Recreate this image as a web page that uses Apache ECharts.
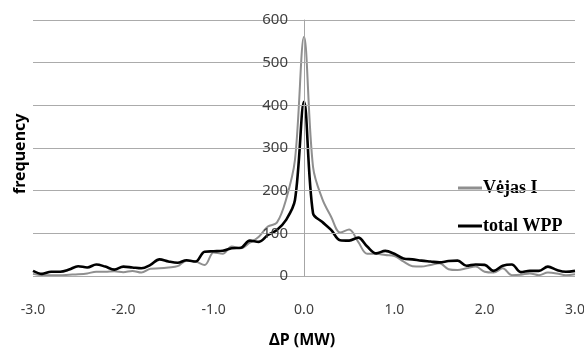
<!DOCTYPE html>
<html>
<head>
<meta charset="utf-8">
<script src="https://cdn.jsdelivr.net/npm/echarts@6/dist/echarts.min.js"></script>
<style>html,body{margin:0;padding:0;background:#fff}#c{width:584px;height:350px}</style>
</head>
<body>
<div id="c"></div>
<script>
const deltaP = [-3.0,-2.9,-2.8,-2.7,-2.6,-2.5,-2.4,-2.3,-2.2,-2.1,-2.0,-1.9,-1.8,-1.7,-1.6,-1.5,-1.4,-1.3,-1.2,-1.1,-1.0,-0.9,-0.8,-0.7,-0.6,-0.5,-0.4,-0.3,-0.2,-0.1,0.0,0.1,0.2,0.3,0.4,0.5,0.6,0.7,0.8,0.9,1.0,1.1,1.2,1.3,1.4,1.5,1.6,1.7,1.8,1.9,2.0,2.1,2.2,2.3,2.4,2.5,2.6,2.7,2.8,2.9,3.0];
const vejasI = [5,2,2,2,3,4,6,10,10,11,9,12,8,17,18,20,23,36,34,26,55,52,69,65,78,92,116,125,178,272,561,256,182,139,102,109,80,52,52,49,47,34,23,22,26,30,16,14,18,22,10,8,18,2,3,6,2,8,6,2,4];
const totalWPP = [12,5,10,10,15,23,20,27,22,15,22,20,18,26,39,34,31,37,34,57,58,59,65,66,83,80,96,108,131,178,408,147,127,108,84,83,90,69,53,59,52,41,39,36,34,32,35,36,24,27,26,12,24,27,9,12,12,22,14,10,12];
const seriesNames = ['Vėjas I', 'total WPP'];

const pair = (vals) => deltaP.map((x, i) => [x, vals[i]]);
const chart = echarts.init(document.getElementById('c'), null, {renderer: 'canvas'});
const labelFont = 'Noto Sans';
const gridLeft = 33, gridRight = 9, W = 584;
const zeroOffset = -Math.round((W - gridLeft - gridRight) / 2);
chart.setOption({
  animation: false,
  grid: {left: gridLeft, right: gridRight, top: 20, bottom: 74, containLabel: false, outerBoundsMode: 'none'},
  xAxis: {
    type: 'value', min: -3, max: 3, interval: 1,
    axisLine: {show: false, onZero: false},
    axisTick: {show: false},
    splitLine: {show: false},
    axisLabel: {formatter: v => v.toFixed(1), color: '#404040', fontSize: 14, fontFamily: labelFont, margin: 27}
  },
  yAxis: {
    type: 'value', min: 0, max: 600, interval: 100,
    offset: zeroOffset,
    axisLine: {show: true, onZero: false, lineStyle: {color: '#a6a6a6', width: 1}},
    axisTick: {show: false},
    splitLine: {show: true, lineStyle: {color: '#ababab', width: 1}},
    axisLabel: {color: '#404040', fontSize: 15, fontFamily: labelFont, margin: 16},
    z: 10
  },
  legend: {
    orient: 'vertical', left: 453, top: 174, itemGap: 20,
    itemWidth: 24, itemHeight: 3,
    data: [
      {name: seriesNames[0], icon: 'rect', itemStyle: {color: '#8f8f8f'}},
      {name: seriesNames[1], icon: 'rect', itemStyle: {color: '#000'}}
    ],
    textStyle: {fontFamily: 'Liberation Serif', fontWeight: 'bold', fontSize: 18, color: '#000', padding: [0,0,0,-4]}
  },
  graphic: [
    {type: 'text', left: 269, top: 332, style: {text: 'ΔP (MW)', font: 'bold 16px "Noto Sans"', fill: '#000'}},
    {type: 'text', x: 12, y: 194, rotation: Math.PI / 2, style: {text: 'frequency', font: 'bold 16px "Noto Sans"', fill: '#000'}}
  ],
  series: [
    {name: seriesNames[0], type: 'line', data: pair(vejasI), smooth: 0.35, symbol: 'none',
     lineStyle: {color: '#8f8f8f', width: 2}, itemStyle: {color: '#8f8f8f'}, z: 2},
    {name: seriesNames[1], type: 'line', data: pair(totalWPP), smooth: 0.35, symbol: 'none',
     lineStyle: {color: '#000', width: 2.6}, itemStyle: {color: '#000'}, z: 3}
  ]
});
</script>
</body>
</html>
